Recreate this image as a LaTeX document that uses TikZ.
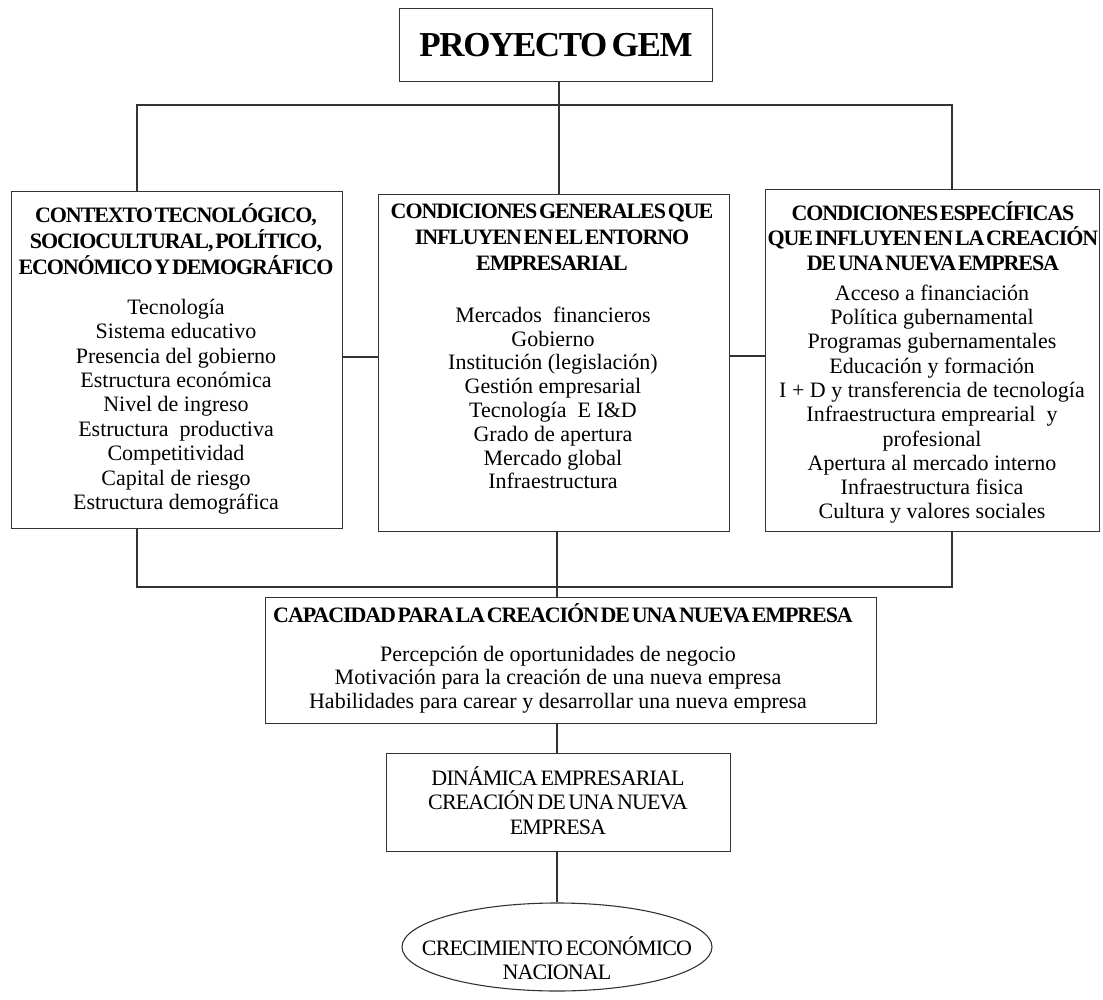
\documentclass[tikz,border=0pt]{standalone}
\usepackage{fontspec}
\setmainfont{Liberation Serif}
\newfontfamily\hdfont{Liberation Serif}[LetterSpace=-5,WordSpace=0.4]
\newfontfamily\cpfont{Liberation Serif}[LetterSpace=-4,WordSpace=0.5]
\newfontfamily\ttlfont{Liberation Serif}[LetterSpace=-4,WordSpace=0.6]
\usetikzlibrary{shapes.geometric}
\tikzset{
  boxs/.style={draw=black!80, line width=1.1pt, inner sep=0pt, anchor=north west},
  ln/.style={draw=black!80, line width=1.1pt},
  hd/.style={anchor=north, inner sep=0pt, align=center, font=\hdfont\bfseries\fontsize{22}{#1}\selectfont},
  lst/.style={anchor=north, inner sep=0pt, align=center, font=\fontsize{22}{#1}\selectfont},
  cp/.style={anchor=north, inner sep=0pt, align=center, font=\cpfont\fontsize{22}{#1}\selectfont},
}
\begin{document}
\begin{tikzpicture}[x=1pt,y=-1pt]
\useasboundingbox (0,0) rectangle (1103,1000);
% boxes
\node[boxs, minimum width=313pt, minimum height=73pt] (gem) at (399,8) {};
\node[boxs, minimum width=331pt, minimum height=337pt] (L) at (11,191) {};
\node[boxs, minimum width=351pt, minimum height=337pt] (M) at (378,194) {};
\node[boxs, minimum width=334pt, minimum height=342pt] (R) at (765,189) {};
\node[boxs, minimum width=611pt, minimum height=126pt] (cap) at (265,597) {};
\node[boxs, minimum width=344pt, minimum height=98pt] (dyn) at (386,753) {};
\node[draw=black!80, line width=1.1pt, ellipse, inner sep=0pt, minimum width=310pt, minimum height=88pt] (ell) at (557,947) {};
% texts
\node[inner sep=0pt, font=\ttlfont\bfseries\fontsize{35}{40}\selectfont] (gemt) at (556,45) {PROYECTO GEM};
\node[hd=26] (Lh) at (176,200) {\rule{0pt}{22pt}CONTEXTO TECNOLÓGICO,\\SOCIOCULTURAL, POLÍTICO,\\ECONÓMICO Y DEMOGRÁFICO};
\node[lst=24.4] (Ll) at (176,292) {\rule{0pt}{22pt}Tecnología\\Sistema educativo\\Presencia del gobierno\\Estructura económica\\Nivel de ingreso\\Estructura~ productiva\\Competitividad\\Capital de riesgo\\Estructura demográfica};
\node[hd=26] (Mh) at (552,196) {\rule{0pt}{22pt}CONDICIONES GENERALES QUE\\INFLUYEN EN EL ENTORNO\\EMPRESARIAL};
\node[lst=23.8] (Ml) at (553,300) {\rule{0pt}{22pt}Mercados~ financieros\\Gobierno\\Institución (legislación)\\Gestión empresarial\\Tecnología~ E I\&D\\Grado de apertura\\Mercado global\\Infraestructura};
\node[hd=25] (Rh) at (933,198) {\rule{0pt}{22pt}CONDICIONES ESPECÍFICAS\\QUE INFLUYEN EN LA CREACIÓN\\DE UNA NUEVA EMPRESA};
\node[lst=24.3] (Rl) at (932,278) {\rule{0pt}{22pt}Acceso a financiación\\Política gubernamental\\Programas gubernamentales\\Educación y formación\\I + D y transferencia de tecnología\\Infraestructura emprearial~ y\\profesional\\Apertura al mercado interno\\Infraestructura fisica\\Cultura y valores sociales};
\node[anchor=base west, inner sep=0pt, font=\hdfont\bfseries\fontsize{22}{26}\selectfont] (capt) at (273,622) {CAPACIDAD PARA LA CREACIÓN DE UNA NUEVA EMPRESA};
\node[lst=23.5] (capl) at (558,639) {\rule{0pt}{22pt}Percepción de oportunidades de negocio\\Motivación para la creación de una nueva empresa\\Habilidades para carear y desarrollar una nueva empresa};
\node[cp=24.5] (dynt) at (558,763) {\rule{0pt}{22pt}DINÁMICA EMPRESARIAL\\CREACIÓN DE UNA NUEVA\\EMPRESA};
\node[cp=24] (ellt) at (557,933) {\rule{0pt}{22pt}CRECIMIENTO ECONÓMICO\\NACIONAL};
% connectors
\coordinate (tL) at (137,105);
\coordinate (tM) at (559,105);
\coordinate (tR) at (952,105);
\coordinate (bL) at (137,587);
\coordinate (bM) at (557,587);
\coordinate (bR) at (952,587);
\draw[ln] (gem.south -| tM) -- (M.north -| tM);
\draw[ln] (L.north -| tL) -- (tL) -- (tR) -- (R.north -| tR);
\draw[ln] (L.east |- 0,357) -- (M.west |- 0,357);
\draw[ln] (M.east |- 0,356) -- (R.west |- 0,356);
\draw[ln] (L.south -| bL) -- (bL) -- (bR) -- (R.south -| bR);
\draw[ln] (M.south -| bM) -- (cap.north -| bM);
\draw[ln] (cap.south -| bM) -- (dyn.north -| bM);
\draw[ln] (dyn.south -| bM) -- (ell.north -| bM);
\end{tikzpicture}
\end{document}
